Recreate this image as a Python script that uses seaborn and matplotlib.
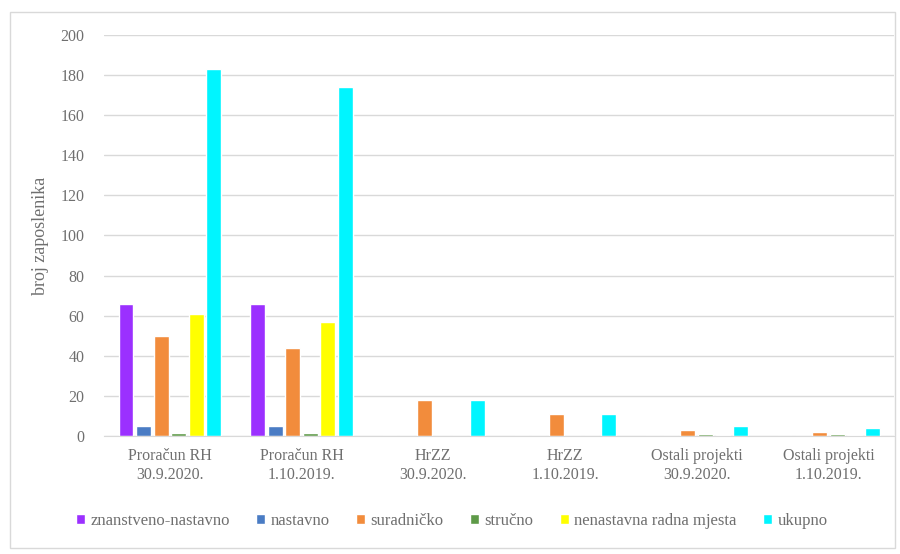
import matplotlib
matplotlib.use("Agg")
import matplotlib.pyplot as plt
import seaborn as sns
import pandas as pd
from matplotlib.patches import Rectangle

# Categories and series
groups = ["Proračun RH\n30.9.2020.", "Proračun RH\n1.10.2019.",
          "HrZZ\n30.9.2020.", "HrZZ\n1.10.2019.",
          "Ostali projekti\n30.9.2020.", "Ostali projekti\n1.10.2019."]
series = ["znanstveno-nastavno", "nastavno", "suradničko", "stručno",
          "nenastavna radna mjesta", "ukupno"]

znanstveno_nastavno = [66, 66, 0, 0, 0, 0]
nastavno = [5, 5, 0, 0, 0, 0]
suradnicko = [50, 44, 18, 11, 3, 2]
strucno = [1.5, 1.5, 0, 0, 1, 1]
nenastavna = [61, 57, 0, 0, 0.5, 0.5]
ukupno = [183, 174, 18, 11, 5, 4]

colors = ["#9B30FF", "#4A7CC4", "#F28C3C", "#5E9A48", "#FFFF00", "#00F5FF"]

values = [znanstveno_nastavno, nastavno, suradnicko, strucno, nenastavna, ukupno]
rows = []
for s, vals in zip(series, values):
    for g, v in zip(groups, vals):
        rows.append({"grupa": g, "vrsta": s, "broj": v})
df = pd.DataFrame(rows)

sns.set_style("white")
plt.rcParams["font.family"] = ["Liberation Serif", "DejaVu Serif"]

fig = plt.figure(figsize=(9, 5.54), dpi=100)
ax = fig.add_axes([0.1156, 0.213, 0.878, 0.724])

sns.barplot(data=df, x="grupa", y="broj", hue="vrsta", order=groups,
            hue_order=series, palette=colors, width=0.8, gap=0.15,
            saturation=1, ax=ax, legend=True)

ax.set_ylim(0, 200)
ax.set_yticks(range(0, 201, 20))
ax.yaxis.grid(True, color="#d9d9d9", linewidth=1)
ax.set_axisbelow(True)
for side in ["top", "right", "left"]:
    ax.spines[side].set_visible(False)
ax.spines["bottom"].set_color("#d9d9d9")
ax.tick_params(axis="both", length=0, colors="#6f6f6f", labelsize=11.5)
ax.tick_params(axis="y", pad=14)
ax.tick_params(axis="x", pad=9)
ax.set_xlabel("")
ax.set_ylabel("broj zaposlenika", color="#6f6f6f", fontsize=13, labelpad=8)

leg = ax.legend(loc="upper center", bbox_to_anchor=(0.44, -0.155), ncol=6,
                frameon=False, fontsize=12, handlelength=0.55, handleheight=0.55,
                handletextpad=0.3, columnspacing=1.6)
for t in leg.get_texts():
    t.set_color("#6f6f6f")

fig.patches.append(Rectangle((0.011, 0.01), 0.983, 0.968, transform=fig.transFigure,
                             fill=False, edgecolor="#d9d9d9", linewidth=1))

fig.savefig("out.png", dpi=100)
